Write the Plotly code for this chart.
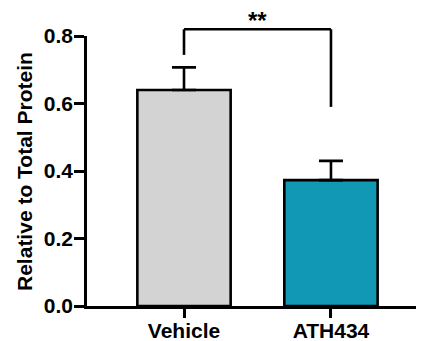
import plotly.graph_objects as go

categories = ["Vehicle", "ATH434"]
means = [0.640, 0.373]
sem_up = [0.067, 0.057]
bar_colors = ["#D3D3D3", "#1198B4"]
y_ticks = [0.0, 0.2, 0.4, 0.6, 0.8]
y_tick_labels = ["0.0", "0.2", "0.4", "0.6", "0.8"]
y_title = "Relative to Total Protein"
sig_label = "**"
bracket_top = 0.82
bracket_left_end = 0.744
bracket_right_end = 0.59

FONT = "Liberation Sans, Arial, sans-serif"
x_range = [-0.66, 1.633]
y_range = [0, 0.8]

fig = go.Figure()
fig.add_trace(go.Bar(
    x=[0, 1], y=means, width=0.635,
    marker=dict(color=bar_colors, line=dict(color="black", width=2.6)),
    error_y=dict(type="data", array=sem_up, arrayminus=[0, 0], symmetric=False,
                 color="black", thickness=2.6, width=12),
))

def px(v):
    return (v - x_range[0]) / (x_range[1] - x_range[0])

def py(v):
    return (v - y_range[0]) / (y_range[1] - y_range[0])

line = dict(color="black", width=2.6)
fig.add_shape(type="line", xref="paper", yref="paper", x0=px(0), x1=px(1), y0=py(bracket_top), y1=py(bracket_top), line=line)
fig.add_shape(type="line", xref="paper", yref="paper", x0=px(0), x1=px(0), y0=py(bracket_top), y1=py(bracket_left_end), line=line)
fig.add_shape(type="line", xref="paper", yref="paper", x0=px(1), x1=px(1), y0=py(bracket_top), y1=py(bracket_right_end), line=line)
fig.add_annotation(text=sig_label, xref="paper", yref="paper", x=px(0.5), y=py(bracket_top),
                   xanchor="center", yanchor="bottom", showarrow=False, yshift=-7,
                   font=dict(family=FONT, size=24, color="black", weight="bold"))
fig.add_annotation(text=y_title, xref="paper", yref="paper", x=-0.187, y=0.5, textangle=-90,
                   xanchor="center", yanchor="middle", showarrow=False,
                   font=dict(family=FONT, size=21, color="black", weight="bold"))

fig.update_xaxes(range=x_range, tickvals=[0, 1], ticktext=categories, showline=True,
                 linecolor="black", linewidth=2.6, ticks="outside", ticklen=9, tickwidth=2.6,
                 tickcolor="black", showgrid=False, zeroline=False, automargin=False,
                 ticklabelstandoff=-5,
                 tickfont=dict(family=FONT, size=21, color="black", weight="bold"))
fig.update_yaxes(range=y_range, tickvals=y_ticks, ticktext=y_tick_labels, showline=True,
                 linecolor="black", linewidth=2.6, ticks="outside", ticklen=10, tickwidth=2.6,
                 tickcolor="black", showgrid=False, zeroline=False, automargin=False,
                 ticklabelstandoff=-3,
                 tickfont=dict(family=FONT, size=21, color="black", weight="bold"))
# page body has an 8px default margin; size the figure so it fits the 424x341 window
fig.update_layout(width=416, height=333, margin=dict(l=79, r=0, t=28, b=35),
                  plot_bgcolor="white", paper_bgcolor="white", showlegend=False)
fig.write_html("out.html")
